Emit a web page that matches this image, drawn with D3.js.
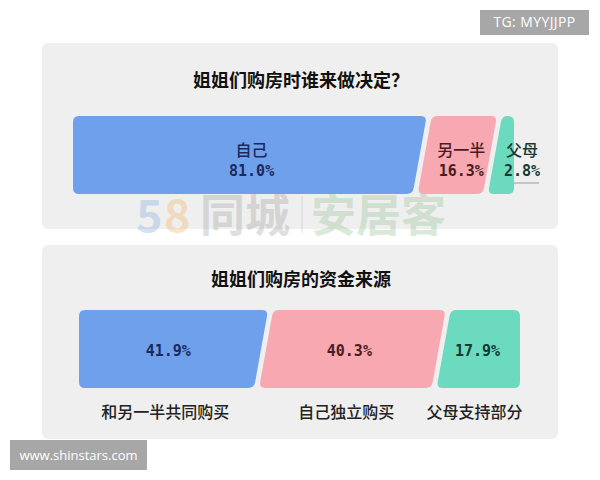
<!DOCTYPE html>
<html>
<head>
<meta charset="utf-8">
<script src="https://cdn.jsdelivr.net/npm/d3@7"></script>
<style>
  body { margin: 0; background: #fff; }
  svg { display: block; }
</style>
</head>
<body>
<script>
// chart values
const q1Title = "姐姐们购房时谁来做决定？";
const q1Categories = ["自己", "另一半", "父母"];
const q1Values = [81.0, 16.3, 2.8];

const q2Title = "姐姐们购房的资金来源";
const q2Categories = ["和另一半共同购买", "自己独立购买", "父母支持部分"];
const q2Values = [41.9, 40.3, 17.9];

const fills = ["#6fa0ec", "#f7a8b0", "#6cdabf"];
const inkColors = ["#1b2a5c", "#4a1c22", "#133a32"];

const W = 600, H = 480;
const cjk = "'Noto Sans CJK SC', 'Noto Sans', sans-serif";
const mono = "'DejaVu Sans Mono', 'Liberation Mono', monospace";

const svg = d3.select("body").append("svg")
  .attr("width", W).attr("height", H)
  .attr("xmlns", "http://www.w3.org/2000/svg");

// rounded polygon: pull each corner in by r and bend with a quadratic
function roundedPoly(pts, r) {
  const n = pts.length;
  let d = "";
  for (let i = 0; i < n; i++) {
    const p = pts[i], prev = pts[(i - 1 + n) % n], next = pts[(i + 1) % n];
    const toward = (a, b, k) => {
      const dx = b[0] - a[0], dy = b[1] - a[1], len = Math.hypot(dx, dy);
      return [a[0] + dx / len * k, a[1] + dy / len * k];
    };
    const a = toward(p, prev, r), b = toward(p, next, r);
    d += (i === 0 ? "M" : "L") + a[0] + "," + a[1] + "Q" + p[0] + "," + p[1] + " " + b[0] + "," + b[1];
  }
  return d + "Z";
}

// panels
const panels = [{ y: 43, h: 186 }, { y: 245, h: 194 }];
svg.selectAll("rect.panel").data(panels).join("rect")
  .attr("class", "panel")
  .attr("x", 42).attr("y", d => d.y)
  .attr("width", 516).attr("height", d => d.h)
  .attr("rx", 6).attr("fill", "#efefef");

// one slanted stacked bar
function stackedBar(opts) {
  const { values, x0, x1, top, bottom, minShare } = opts;
  const shares = values.map(v => Math.max(v, minShare || 0));
  const x = d3.scaleLinear().domain([0, d3.sum(shares)]).range([x0, x1]);
  const cum = [0, ...d3.cumsum(shares)];
  const slant = 7, gap = 2.5, n = values.length;
  const segs = values.map((v, i) => {
    const a = x(cum[i]), b = x(cum[i + 1]);
    const tl = i === 0 ? a : a + gap + slant;
    const bl = i === 0 ? a : a + gap - slant;
    const tr = i === n - 1 ? b : b - gap + slant;
    const br = i === n - 1 ? b : b - gap - slant;
    return { i, v, a, b, mid: (a + b) / 2,
      pts: [[tl, top], [tr, top], [br, bottom], [bl, bottom]] };
  });
  svg.append("g").selectAll("path").data(segs).join("path")
    .attr("d", d => roundedPoly(d.pts, 6))
    .attr("fill", d => fills[d.i]);
  return segs;
}

// ---- chart 1
svg.append("text")
  .attr("x", 301).attr("y", 81).attr("dy", "0.35em")
  .attr("text-anchor", "middle")
  .attr("font-family", cjk).attr("font-size", 18).attr("font-weight", 700)
  .attr("fill", "#111").text(q1Title);

// watermark sits behind the bar labels
const wm = svg.append("g").attr("opacity", 0.33)
  .attr("font-family", cjk).attr("font-size", 45).attr("font-weight", 700);
wm.append("text").attr("x", 136).attr("y", 232).attr("fill", "#7ea8dc").text("5");
wm.append("text").attr("x", 164).attr("y", 232).attr("fill", "#f2b25e").text("8");
wm.append("text").attr("x", 200).attr("y", 232).attr("fill", "#a0a0a0").text("同城");
wm.append("line").attr("x1", 302).attr("x2", 302).attr("y1", 196).attr("y2", 233)
  .attr("stroke", "#b0b0b0").attr("stroke-width", 1.2);
wm.append("text").attr("x", 311).attr("y", 232).attr("fill", "#92c092").text("安居客");

const seg1 = stackedBar({ values: q1Values, x0: 73, x1: 514, top: 116, bottom: 194, minShare: 5 });

const lab1 = svg.append("g").selectAll("g").data(seg1).join("g")
  .attr("transform", d => {
    const cx = (d.b - d.a) < 30 ? d.b + 8 : d.mid + 4;
    return `translate(${cx},0)`;
  });
lab1.append("text")
  .attr("y", 150).attr("dy", "0.35em").attr("text-anchor", "middle")
  .attr("font-family", cjk).attr("font-size", 16).attr("font-weight", 500)
  .attr("fill", d => inkColors[d.i])
  .text(d => q1Categories[d.i]);
lab1.append("text")
  .attr("y", 171).attr("dy", "0.35em").attr("text-anchor", "middle")
  .attr("font-family", mono).attr("font-size", 15).attr("font-weight", 700)
  .attr("fill", d => inkColors[d.i])
  .text(d => d.v.toFixed(1) + "%");
// leader line under the outside label
lab1.filter(d => (d.b - d.a) < 30).append("line")
  .attr("x1", -8).attr("x2", 17).attr("y1", 183).attr("y2", 183)
  .attr("stroke", "#a9a9a9").attr("stroke-width", 1.2);

// ---- chart 2
svg.append("text")
  .attr("x", 301).attr("y", 280).attr("dy", "0.35em")
  .attr("text-anchor", "middle")
  .attr("font-family", cjk).attr("font-size", 18).attr("font-weight", 700)
  .attr("fill", "#111").text(q2Title);

const seg2 = stackedBar({ values: q2Values, x0: 79, x1: 520, top: 310, bottom: 388 });

svg.append("g").selectAll("text").data(seg2).join("text")
  .attr("x", d => d.mid - 3).attr("y", 351).attr("dy", "0.35em")
  .attr("text-anchor", "middle")
  .attr("font-family", mono).attr("font-size", 15).attr("font-weight", 700)
  .attr("fill", d => inkColors[d.i])
  .text(d => d.v.toFixed(1) + "%");

svg.append("g").selectAll("text").data(seg2).join("text")
  .attr("x", d => d.mid - 6).attr("y", 412).attr("dy", "0.35em")
  .attr("text-anchor", "middle")
  .attr("font-family", cjk).attr("font-size", 16).attr("font-weight", 500)
  .attr("fill", "#222")
  .text(d => q2Categories[d.i]);

// ---- corner tags
const tags = [
  { x: 480, y: 10, w: 109, h: 25, text: "TG: MYYJJPP", size: 14, ls: 0.4 },
  { x: 10, y: 440, w: 137, h: 30, text: "www.shinstars.com", size: 13, ls: 0 }
];
const tg = svg.append("g").selectAll("g").data(tags).join("g");
tg.append("rect")
  .attr("x", d => d.x).attr("y", d => d.y)
  .attr("width", d => d.w).attr("height", d => d.h)
  .attr("fill", "#a7a7a7");
tg.append("text")
  .attr("x", d => d.x + d.w / 2).attr("y", d => d.y + d.h / 2).attr("dy", "0.35em")
  .attr("text-anchor", "middle")
  .attr("font-family", "'Open Sans', 'DejaVu Sans', sans-serif")
  .attr("font-size", d => d.size).attr("letter-spacing", d => d.ls)
  .attr("fill", "#fff")
  .text(d => d.text);
</script>
</body>
</html>
